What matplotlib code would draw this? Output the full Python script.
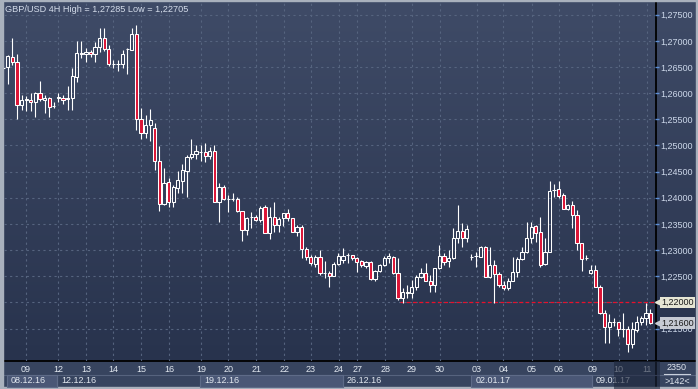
import numpy as np
import matplotlib
matplotlib.use('Agg')
import matplotlib.pyplot as plt
from matplotlib.patches import Rectangle
from matplotlib import transforms
from matplotlib.ticker import FuncFormatter

plt.rcParams['font.family'] = ['Liberation Sans', 'DejaVu Sans']

# GBP/USD 4H candles
opens = [1.2649, 1.2650, 1.2670, 1.2659, 1.2577, 1.2587, 1.2587, 1.2583, 1.2600, 1.2587,
         1.2591, 1.2576, 1.2590, 1.2590, 1.2589, 1.2590, 1.2630, 1.2674, 1.2675, 1.2678,
         1.2674, 1.2688, 1.2705, 1.2684, 1.2655, 1.2655, 1.2655, 1.2684, 1.2683, 1.2714,
         1.2551, 1.2523, 1.2540, 1.2533, 1.2470, 1.2388, 1.2430, 1.2391, 1.2419, 1.2433,
         1.2452, 1.2477, 1.2484, 1.2488, 1.2488, 1.2479, 1.2489, 1.2392, 1.2420, 1.2397,
         1.2397, 1.2397, 1.2375, 1.2338, 1.2364, 1.2364, 1.2358, 1.2382, 1.2332, 1.2363,
         1.2348, 1.2361, 1.2370, 1.2361, 1.2335, 1.2344, 1.2302, 1.2286, 1.2273, 1.2286,
         1.2257, 1.2257, 1.2250, 1.2273, 1.2281, 1.2291, 1.2291, 1.2284, 1.2280, 1.2270,
         1.2278, 1.2244, 1.2260, 1.2271, 1.2284, 1.2286, 1.2257, 1.2208, 1.2217, 1.2217,
         1.2229, 1.2248, 1.2257, 1.2241, 1.2233, 1.2265, 1.2289, 1.2280, 1.2285, 1.2324,
         1.2336, 1.2324, 1.2287, 1.2289, 1.2287, 1.2306, 1.2249, 1.2271, 1.2254, 1.2233,
         1.2227, 1.2241, 1.2258, 1.2282, 1.2296, 1.2323, 1.2346, 1.2334, 1.2273, 1.2297,
         1.2414, 1.2416, 1.2405, 1.2379, 1.2387, 1.2368, 1.2313, 1.2285, 1.2256, 1.2262,
         1.2230, 1.2179, 1.2152, 1.2162, 1.2162, 1.2149, 1.2149, 1.2120, 1.2147, 1.2163,
         1.2170, 1.2180]
highs = [1.2654, 1.2673, 1.2705, 1.2675, 1.2597, 1.2595, 1.2600, 1.2603, 1.2623, 1.2597,
         1.2593, 1.2583, 1.2600, 1.2597, 1.2614, 1.2648, 1.2700, 1.2700, 1.2686, 1.2683,
         1.2698, 1.2725, 1.2725, 1.2693, 1.2663, 1.2663, 1.2683, 1.2686, 1.2724, 1.2730,
         1.2571, 1.2558, 1.2570, 1.2542, 1.2499, 1.2456, 1.2437, 1.2424, 1.2451, 1.2464,
         1.2482, 1.2512, 1.2501, 1.2500, 1.2504, 1.2498, 1.2501, 1.2428, 1.2424, 1.2405,
         1.2410, 1.2401, 1.2375, 1.2364, 1.2372, 1.2367, 1.2385, 1.2386, 1.2383, 1.2391,
         1.2364, 1.2371, 1.2378, 1.2361, 1.2348, 1.2348, 1.2306, 1.2291, 1.2291, 1.2300,
         1.2280, 1.2260, 1.2278, 1.2294, 1.2303, 1.2294, 1.2291, 1.2287, 1.2281, 1.2280,
         1.2280, 1.2262, 1.2273, 1.2289, 1.2294, 1.2289, 1.2285, 1.2227, 1.2233, 1.2243,
         1.2252, 1.2266, 1.2275, 1.2252, 1.2266, 1.2310, 1.2294, 1.2301, 1.2342, 1.2387,
         1.2352, 1.2348, 1.2293, 1.2297, 1.2308, 1.2308, 1.2306, 1.2281, 1.2259, 1.2240,
         1.2246, 1.2287, 1.2287, 1.2306, 1.2354, 1.2354, 1.2348, 1.2364, 1.2323, 1.2432,
         1.2426, 1.2432, 1.2409, 1.2389, 1.2394, 1.2376, 1.2314, 1.2290, 1.2271, 1.2271,
         1.2233, 1.2185, 1.2178, 1.2170, 1.2163, 1.2179, 1.2155, 1.2163, 1.2173, 1.2173,
         1.2199, 1.2187]
lows = [1.2646, 1.2618, 1.2654, 1.2551, 1.2568, 1.2566, 1.2565, 1.2555, 1.2585, 1.2562,
        1.2555, 1.2572, 1.2583, 1.2579, 1.2568, 1.2568, 1.2622, 1.2667, 1.2659, 1.2670,
        1.2660, 1.2679, 1.2681, 1.2651, 1.2648, 1.2642, 1.2648, 1.2636, 1.2683, 1.2530,
        1.2512, 1.2515, 1.2509, 1.2453, 1.2374, 1.2386, 1.2383, 1.2383, 1.2410, 1.2410,
        1.2402, 1.2474, 1.2475, 1.2471, 1.2468, 1.2474, 1.2392, 1.2354, 1.2396, 1.2373,
        1.2394, 1.2372, 1.2317, 1.2329, 1.2343, 1.2356, 1.2354, 1.2332, 1.2322, 1.2335,
        1.2335, 1.2346, 1.2356, 1.2334, 1.2326, 1.2284, 1.2281, 1.2271, 1.2268, 1.2252,
        1.2246, 1.2229, 1.2250, 1.2271, 1.2275, 1.2276, 1.2281, 1.2259, 1.2268, 1.2265,
        1.2243, 1.2241, 1.2259, 1.2270, 1.2276, 1.2255, 1.2205, 1.2199, 1.2208, 1.2208,
        1.2224, 1.2246, 1.2241, 1.2219, 1.2220, 1.2264, 1.2271, 1.2268, 1.2283, 1.2313,
        1.2305, 1.2316, 1.2281, 1.2268, 1.2287, 1.2248, 1.2247, 1.2198, 1.2230, 1.2224,
        1.2224, 1.2240, 1.2249, 1.2281, 1.2294, 1.2313, 1.2316, 1.2268, 1.2271, 1.2296,
        1.2401, 1.2399, 1.2378, 1.2377, 1.2342, 1.2300, 1.2260, 1.2281, 1.2254, 1.2229,
        1.2178, 1.2123, 1.2123, 1.2154, 1.2136, 1.2134, 1.2106, 1.2112, 1.2144, 1.2157,
        1.2157, 1.2159]
closes = [1.2649, 1.2671, 1.2660, 1.2577, 1.2587, 1.2588, 1.2584, 1.2600, 1.2589, 1.2591,
          1.2574, 1.2576, 1.2593, 1.2587, 1.2591, 1.2632, 1.2676, 1.2676, 1.2678, 1.2674,
          1.2688, 1.2705, 1.2684, 1.2655, 1.2655, 1.2655, 1.2674, 1.2684, 1.2714, 1.2551,
          1.2523, 1.2539, 1.2548, 1.2470, 1.2389, 1.2428, 1.2391, 1.2420, 1.2434, 1.2453,
          1.2477, 1.2483, 1.2489, 1.2488, 1.2480, 1.2489, 1.2392, 1.2420, 1.2397, 1.2397,
          1.2397, 1.2375, 1.2338, 1.2361, 1.2364, 1.2358, 1.2380, 1.2332, 1.2363, 1.2348,
          1.2359, 1.2370, 1.2361, 1.2335, 1.2344, 1.2302, 1.2286, 1.2275, 1.2286, 1.2256,
          1.2257, 1.2250, 1.2273, 1.2289, 1.2289, 1.2291, 1.2284, 1.2278, 1.2271, 1.2278,
          1.2244, 1.2260, 1.2271, 1.2285, 1.2288, 1.2257, 1.2208, 1.2220, 1.2219, 1.2229,
          1.2248, 1.2257, 1.2241, 1.2233, 1.2265, 1.2289, 1.2278, 1.2285, 1.2324, 1.2336,
          1.2324, 1.2340, 1.2287, 1.2289, 1.2306, 1.2249, 1.2271, 1.2254, 1.2233, 1.2227,
          1.2241, 1.2258, 1.2282, 1.2296, 1.2323, 1.2345, 1.2333, 1.2271, 1.2297, 1.2412,
          1.2414, 1.2403, 1.2379, 1.2387, 1.2367, 1.2313, 1.2282, 1.2285, 1.2262, 1.2230,
          1.2179, 1.2152, 1.2163, 1.2163, 1.2150, 1.2150, 1.2120, 1.2149, 1.2163, 1.2170,
          1.2180, 1.2160]

# day labels and the candle index where each day starts
day_labels = ['09', '12', '13', '14', '15', '16', '19', '20', '21', '22', '23', '24',
              '27', '28', '29', '30', '03', '04', '05', '06', '09', '10', '11']
day_pos = [4.95, 11.9, 18.0, 23.9, 30.0, 36.1, 43.1, 49.0, 55.1, 61.2, 67.0, 73.1,
           77.1, 83.2, 89.0, 95.1, 103.2, 108.9, 115.2, 121.1, 128.3, 134.1, 140.2]
week_labels = ['08.12.16', '12.12.16', '19.12.16', '26.12.16', '02.01.17', '09.01.17']
week_start = [0.85, 11.8, 42.9, 74.0, 102.0, 128.2]
level = 1.22
level_from = 86.4
title = 'GBP/USD 4H High = 1,27285 Low = 1,22705'

W, H = 698, 389
RED = '#dc1436'
fig = plt.figure(figsize=(W / 100, H / 100), dpi=100)

# background in pixel coords
bg = fig.add_axes([0, 0, 1, 1])
bg.set_xlim(0, W)
bg.set_ylim(H, 0)
bg.axis('off')
top = np.array([63, 75, 103]) / 255
bot = np.array([40, 51, 77]) / 255
t = np.linspace(0, 1, 256)[:, None, None]
grad = np.repeat(top * (1 - t) + bot * t, 2, axis=1)
bg.imshow(grad, extent=(0, W, 361, 0), aspect='auto', interpolation='bilinear')
bg.add_patch(Rectangle((0, 361), W, 28, color='#37445f'))
bg.plot([0, W], [361, 361], color='black', lw=1.3)
bg.plot([655.5, 655.5], [0, H], color='black', lw=1.3)
bg.plot([0, W], [374.5, 374.5], color='#56637e', lw=0.8)
# light outer frame
for r in [(0, 0, 3, H), (0, 387, W, 2), (696, 0, 2, H), (0, 0, W, 1)]:
    bg.add_patch(Rectangle(r[:2], r[2], r[3], color='#a9b1bd', zorder=5))
bg.text(677, 367.5, '2350', ha='center', va='center', fontsize=6.5, color='#e0e6ef')
bg.plot([664, 690], [374, 374], color='#c8d0dc', lw=0.8)
bg.text(677, 381, '>%d<' % len(opens), ha='center', va='center', fontsize=6.5, color='#e0e6ef')
fig.text(5 / W, 1 - 9 / H, title, color='#d4dcea', fontsize=6.6, va='center', ha='left')

# main chart
ax = fig.add_axes([4 / W, (H - 361) / H, 651 / W, 359 / H])
ax.patch.set_alpha(0)
for s in ax.spines.values():
    s.set_visible(False)
ax.set_xlim((4 - 3.3) / 4.59, (655 - 3.3) / 4.59)
ax.set_ylim(1.20879, 1.27743)

o = np.array(opens); h = np.array(highs); l = np.array(lows); c = np.array(closes)
idx = np.arange(len(o))
btop = np.maximum(o, c)
bbot = np.minimum(o, c)
ax.vlines(idx, btop, h, color='white', lw=0.8, zorder=3)
ax.vlines(idx, l, bbot, color='white', lw=0.8, zorder=3)
bw = 0.7
for i in idx:
    up = c[i] >= o[i]
    ax.add_patch(Rectangle((i - bw / 2, bbot[i]), bw, btop[i] - bbot[i],
                           facecolor='none' if up else RED, edgecolor='white',
                           lw=0.75, zorder=4))

ax.hlines(level, level_from, ax.get_xlim()[1], color='#e8102a', lw=0.9,
          linestyle=(0, (3, 2)), zorder=2.5)

ax.set_yticks(np.arange(1.215, 1.2751, 0.005))
ax.yaxis.tick_right()
ax.yaxis.set_major_formatter(FuncFormatter(lambda v, p: f'{v:.5f}'.replace('.', ',')))
ax.tick_params(axis='y', direction='out', length=3, width=1, color='#5d8fd6',
               labelcolor='#cdd8ea', labelsize=6.5, pad=1)
ax.set_xticks(day_pos)
ax.set_xticklabels(day_labels)
ax.tick_params(axis='x', length=0, labelcolor='#e2e8f0', labelsize=6.5, pad=3)
ax.grid(True, color='#56647f', linestyle=(0, (2, 3)), lw=0.8)
ax.set_axisbelow(True)

# week boxes under the day labels
xt = transforms.blended_transform_factory(ax.transData, ax.transAxes)
y0, y1 = -(387 - 361) / 359, -(374.5 - 361) / 359
edges = week_start + [ax.get_xlim()[1]]
for k, lab in enumerate(week_labels):
    if k % 2 == 0:
        ax.add_patch(Rectangle((edges[k], y0), edges[k + 1] - edges[k], y1 - y0,
                               transform=xt, facecolor='#4a5776', edgecolor='#5e6b88',
                               lw=0.8, clip_on=False, zorder=1))
    else:
        ax.plot([edges[k], edges[k]], [y0, y1], transform=xt, color='#5e6b88',
                lw=0.8, clip_on=False)
    ax.text(edges[k] + 0.8, (y0 + y1) / 2, lab, transform=xt, ha='left', va='center',
            fontsize=6.5, color='#e2e8f0', clip_on=False)
ax.add_patch(Rectangle((133.0, -28 / 359), 10, 28 / 359, transform=xt, facecolor='#1c253a',
                       alpha=0.6, edgecolor='none', clip_on=False, zorder=30))

# price markers on the right axis
bt = transforms.blended_transform_factory(ax.transAxes, ax.transData)
for val, fc in [(level, '#e6e6d4'), (closes[-1], '#c6cad3')]:
    ax.plot([1 + 3 / 651], [val], marker='<', ms=5, color=fc, transform=bt,
            clip_on=False, zorder=20)
    ax.text(1 + 6 / 651, val, f'{val:.5f}'.replace('.', ','), transform=bt, ha='left',
            va='center', fontsize=6.5, color='#1a1a1a', zorder=21, clip_on=False,
            bbox=dict(boxstyle='square,pad=0.15', fc=fc, ec='none'))

fig.savefig('out.png', dpi=100)
